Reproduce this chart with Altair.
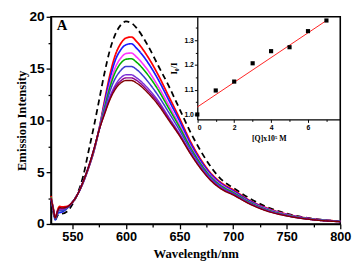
import altair as alt
import pandas as pd

# ---------------- main spectra ----------------
wavelength = [530, 532, 534, 536, 538, 540, 545, 550, 555, 560, 565, 570, 575, 580,
              585, 590, 595, 600, 605, 610, 620, 630, 640, 650, 660, 670, 680, 690,
              700, 715, 730, 750, 775, 800]

free = [2.2, 1.2, 0.4, 0.8, 1.0, 1.0, 1.2, 1.9, 3.0, 4.6, 7.0, 9.4, 12.0, 14.6,
        16.8, 18.3, 19.2, 19.55, 19.4, 18.9, 17.3, 15.3, 13.3, 11.1, 8.9, 7.0, 5.4, 4.2,
        3.5, 2.5, 1.7, 1.0, 0.5, 0.28]
red = [2.7, 1.6, 0.6, 1.3, 1.7, 1.65, 1.7, 2.1, 2.9, 4.0, 5.4, 7.0, 9.2, 11.9,
       14.4, 16.3, 17.4, 17.95, 18.05, 17.6, 16.2, 14.4, 12.3, 10.2, 8.0, 6.2, 4.8, 3.9,
       3.3, 2.3, 1.6, 0.95, 0.48, 0.27]
blue = [2.4, 1.4, 0.4, 1.0, 1.1, 1.15, 1.5, 2.1, 2.9, 4.0, 5.4, 7.05, 9.2, 11.7,
        14.0, 15.8, 16.8, 17.3, 17.4, 16.95, 15.65, 13.95, 11.95, 9.95, 7.8, 6.05, 4.7, 3.8,
        3.2, 2.25, 1.55, 0.92, 0.47, 0.26]
magenta = [2.6, 1.5, 0.6, 1.2, 1.4, 1.4, 1.6, 2.1, 2.9, 4.05, 5.45, 7.1, 9.2, 11.4,
           13.5, 15.1, 16.0, 16.45, 16.5, 16.1, 14.9, 13.3, 11.45, 9.55, 7.55, 5.85, 4.55, 3.7,
           3.1, 2.15, 1.5, 0.9, 0.45, 0.25]
green = [2.6, 1.5, 0.5, 1.1, 1.3, 1.3, 1.55, 2.1, 2.9, 4.05, 5.45, 7.1, 9.15, 11.25,
         13.2, 14.65, 15.5, 15.9, 15.95, 15.6, 14.45, 12.95, 11.15, 9.35, 7.4, 5.75, 4.45, 3.6,
         3.05, 2.12, 1.45, 0.87, 0.44, 0.25]
royal = [2.5, 1.5, 0.5, 1.1, 1.3, 1.3, 1.55, 2.1, 2.9, 4.1, 5.5, 7.15, 9.1, 11.0,
         12.8, 14.05, 14.8, 15.2, 15.2, 14.9, 13.8, 12.4, 10.75, 9.05, 7.2, 5.6, 4.35, 3.5,
         2.95, 2.05, 1.4, 0.84, 0.43, 0.24]
violet = [2.5, 1.5, 0.6, 1.2, 1.5, 1.45, 1.6, 2.1, 2.9, 4.1, 5.5, 7.2, 9.1, 10.8,
          12.3, 13.4, 14.1, 14.4, 14.4, 14.1, 13.15, 11.9, 10.3, 8.7, 6.95, 5.4, 4.2, 3.4,
          2.85, 2.0, 1.35, 0.8, 0.41, 0.23]
purple = [2.5, 1.5, 0.6, 1.2, 1.5, 1.5, 1.65, 2.1, 2.9, 4.1, 5.5, 7.2, 9.1, 10.7,
          12.1, 13.2, 13.8, 14.1, 14.1, 13.85, 12.9, 11.7, 10.15, 8.6, 6.85, 5.35, 4.15, 3.35,
          2.85, 1.98, 1.33, 0.79, 0.4, 0.22]
maroon = [2.5, 1.5, 0.6, 1.2, 1.6, 1.55, 1.65, 2.1, 2.9, 4.1, 5.5, 7.2, 9.1, 10.6,
          12.0, 13.0, 13.6, 13.85, 13.85, 13.6, 12.7, 11.5, 10.0, 8.5, 6.8, 5.3, 4.1, 3.3,
          2.8, 1.95, 1.3, 0.78, 0.4, 0.22]

series_names = ["free", "c1", "c2", "c3", "c4", "c5", "c6", "c7", "c8"]
series_values = [free, red, blue, magenta, green, royal, violet, purple, maroon]
series_colors = ["#000000", "#ff0000", "#1a1aff", "#ff33ff", "#00b000",
                 "#3c3cd0", "#7a2fd8", "#8b008b", "#800000"]
series_dash = [[6, 4], [1, 0], [1, 0], [1, 0], [1, 0], [1, 0], [1, 0], [1, 0], [1, 0]]
series_width = [1.8, 1.4, 1.4, 1.4, 1.4, 1.4, 1.4, 1.4, 1.4]

# ---------------- inset (Stern-Volmer) ----------------
q_conc = [0, 1, 2, 3, 4, 5, 6, 7]
i0_over_i = [1.0, 1.097, 1.133, 1.207, 1.256, 1.272, 1.337, 1.38]
fit_q = [0, 7]
fit_r = [1.03, 1.38]

rows = []
for name, vals in zip(series_names, series_values):
    for w, v in zip(wavelength, vals):
        rows.append({"w": w, "v": v, "s": name})
df_spec = pd.DataFrame(rows)
df_pts = pd.DataFrame({"q": q_conc, "r": i0_over_i})
df_fit = pd.DataFrame({"q": fit_q, "r": fit_r})

W, H = 296, 212
INSET_LEFT, INSET_BOTTOM = 149.7, 105

sans = "Liberation Sans"
serif = "Liberation Serif"

tick_cond_x = {"condition": {"test": "datum.value % 50 === 0", "value": 5}, "value": 3}
tick_cond_y = {"condition": {"test": "datum.value % 5 === 0", "value": 5}, "value": 3}

x_main = alt.X(
    "w:Q",
    scale=alt.Scale(domain=[530, 800], nice=False, zero=False),
    axis=alt.Axis(
        values=[550, 575, 600, 625, 650, 675, 700, 725, 750, 775, 800],
        labelExpr="datum.value % 50 === 0 ? datum.label : ''",
        tickSize=tick_cond_x, grid=False, title="Wavelength/nm",
        labelFont=sans, labelFontWeight="bold", labelFontSize=13, labelColor="black",
        titleFont=serif, titleFontWeight="bold", titleFontSize=13, titleColor="black",
        titlePadding=4, labelPadding=2, tickColor="black", tickWidth=1.3,
        domainColor="black", domainWidth=1.5, labelFlush=False,
    ),
)
y_main = alt.Y(
    "v:Q",
    scale=alt.Scale(domain=[0, 20], nice=False),
    axis=alt.Axis(
        values=[0, 2.5, 5, 7.5, 10, 12.5, 15, 17.5, 20],
        labelExpr="datum.value % 5 === 0 ? datum.label : ''",
        tickSize=tick_cond_y, grid=False, title="Emission Intensity",
        labelFont=sans, labelFontWeight="bold", labelFontSize=14, labelColor="black",
        titleFont=serif, titleFontWeight="bold", titleFontSize=13, titleColor="black",
        titlePadding=0, labelPadding=2, tickColor="black", tickWidth=1.3,
        domainColor="black", domainWidth=1.5, labelFlush=False,
    ),
)

spectra = alt.Chart(df_spec).mark_line(interpolate="monotone").encode(
    x=x_main,
    y=y_main,
    color=alt.Color("s:N", scale=alt.Scale(domain=series_names, range=series_colors), legend=None),
    strokeDash=alt.StrokeDash("s:N", scale=alt.Scale(domain=series_names, range=series_dash), legend=None),
    strokeWidth=alt.StrokeWidth("s:N", scale=alt.Scale(domain=series_names, range=series_width), legend=None),
)

inset_x_axis = alt.Axis(
    orient="bottom", offset=-(H - INSET_BOTTOM),
    values=[0, 1, 2, 3, 4, 5, 6, 7],
    labelExpr="datum.value % 2 === 0 ? datum.label : ''",
    tickSize={"condition": {"test": "datum.value % 2 === 0", "value": 3}, "value": 2},
    grid=False, title="[Q]x10⁵ M",
    labelFont=sans, labelFontWeight="bold", labelFontSize=7, labelColor="black",
    titleFont=serif, titleFontWeight="bold", titleFontSize=8, titleColor="black",
    titlePadding=5, labelPadding=1, tickColor="black", tickWidth=1,
    domainColor="black", domainWidth=1.3,
)
inset_y_axis = alt.Axis(
    orient="left", offset=-INSET_LEFT,
    values=[1.0, 1.05, 1.1, 1.15, 1.2, 1.25, 1.3, 1.35],
    labelExpr="(round(datum.value*100) % 10 === 0) ? format(datum.value, '.1f') : ''",
    tickSize={"condition": {"test": "round(datum.value*100) % 10 === 0", "value": 3}, "value": 2},
    grid=False, title="I₀/I",
    labelFont=sans, labelFontWeight="bold", labelFontSize=7, labelColor="black",
    titleFont=serif, titleFontWeight="bold", titleFontSize=9, titleColor="black",
    titlePadding=6, labelPadding=1, tickColor="black", tickWidth=1,
    domainColor="black", domainWidth=1.3,
)
x_in_scale = alt.Scale(domain=[0, 7.75], range=[INSET_LEFT, W], nice=False, zero=False)
y_in_scale = alt.Scale(domain=[0.98, 1.395], range=[INSET_BOTTOM, 0], nice=False, zero=False)

fit = alt.Chart(df_fit).mark_line(color="#ff2020", strokeWidth=1).encode(
    x=alt.X("q:Q", scale=x_in_scale, axis=inset_x_axis),
    y=alt.Y("r:Q", scale=y_in_scale, axis=inset_y_axis),
)
pts = alt.Chart(df_pts).mark_square(size=18, color="black", opacity=1).encode(
    x=alt.X("q:Q", scale=x_in_scale, axis=inset_x_axis),
    y=alt.Y("r:Q", scale=y_in_scale, axis=inset_y_axis),
)
inset = alt.layer(fit, pts)

chart = alt.layer(spectra, inset).resolve_scale(x="independent", y="independent").properties(
    width=W,
    height=H,
    autosize=alt.AutoSizeParams(type="none"),
    padding={"left": 44, "top": 6, "right": 12, "bottom": 40},
    title=alt.TitleParams(
        "A", anchor="start", frame="group", orient="top", baseline="top",
        offset=0, dx=6, dy=24, font=serif, fontWeight="bold", fontSize=15, color="black",
    ),
).configure_view(stroke="black", strokeWidth=1.6)

chart.save("out.html", embed_options={"renderer": "svg", "actions": False})
